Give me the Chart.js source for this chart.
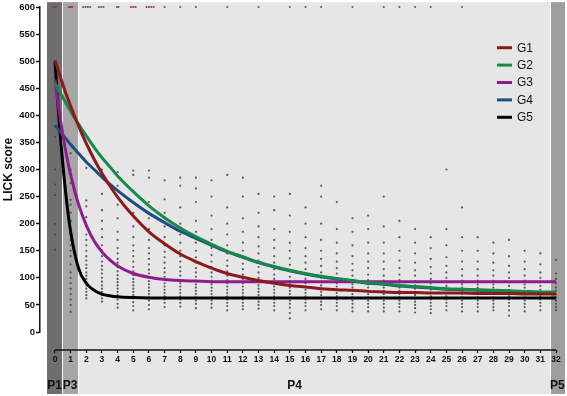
<!DOCTYPE html>
<html lang="en">
<head>
<meta charset="UTF-8" />
<title>LICK score per session</title>
<script src="https://cdn.jsdelivr.net/npm/chart.js"></script>
<style>
  html, body { margin:0; padding:0; background:#fff; }
</style>
</head>
<body>
<canvas id="chart" width="567" height="396"></canvas>

<script>
// ---- data ----
const groups = ['G1', 'G2', 'G3', 'G4', 'G5'];

// sessions where the fitted curves were read
const fitX = [0, 0.25, 0.5, 0.75, 1, 1.5, 2, 2.5, 3, 3.5, 4,
  5, 6, 7, 8, 9, 10, 11, 12, 13, 14, 15, 16, 17, 18, 19, 20,
  21, 22, 23, 24, 25, 26, 27, 28, 29, 30, 31, 32];

const fitG1 = [502, 479, 457, 436, 417, 381, 348, 319, 293, 270, 249,
  214, 185, 163, 144, 130, 118, 108, 101, 95, 90, 86, 83, 80, 78, 77, 75,
  74, 73, 73, 72, 72, 72, 71, 71, 71, 70, 70, 70];
const fitG2 = [460, 446, 433, 420, 407, 384, 362, 341, 322, 305, 288,
  259, 233, 211, 192, 176, 162, 149, 139, 129, 121, 114, 108, 103, 99, 95, 91,
  89, 86, 84, 82, 80, 79, 78, 77, 76, 75, 74, 74];
const fitG3 = [466, 411, 364, 324, 290, 236, 197, 168, 148, 133, 122,
  108, 101, 97, 95, 94, 93, 93, 93, 93, 93, 93, 93, 93, 93, 93, 93,
  93, 93, 93, 93, 93, 93, 93, 93, 93, 93, 93, 93];
const fitG4 = [382, 373, 364, 355, 346, 330, 314, 300, 286, 273, 261,
  239, 219, 202, 186, 173, 160, 148, 138, 128, 120, 113, 107, 102, 98, 94, 90,
  88, 85, 83, 81, 79, 78, 77, 76, 75, 74, 73, 73];
const fitG5 = [500, 395, 310, 240, 185, 118, 90, 77, 70, 67, 65,
  63.5, 63, 63, 63, 63, 63, 63, 63, 63, 63, 63, 63, 63, 63, 63, 63,
  63, 63, 63, 63, 63, 63, 63, 63, 63, 63, 63, 63];

// individual scores, one list per session (index = session)
const dotCols = [
  [360, 300, 272, 253, 200, 180, 152],
  [330, 300, 275, 244, 235, 220, 205, 190, 180, 170, 160, 150, 140, 125, 110, 100, 90, 80, 70, 60, 50, 37],
  [303, 243, 232, 212, 195, 180, 170, 160, 150, 140, 132, 124, 118, 110, 104, 98, 92, 86, 80, 74, 68, 62],
  [300, 255, 225, 205, 190, 175, 160, 150, 140, 130, 122, 115, 108, 100, 93, 86, 80, 74, 68, 62, 56],
  [295, 270, 235, 210, 185, 170, 155, 145, 135, 128, 120, 112, 105, 98, 92, 86, 80, 74, 68, 60, 52, 45],
  [298, 290, 260, 220, 195, 175, 160, 150, 140, 130, 120, 112, 105, 98, 92, 86, 80, 74, 68, 62, 55, 48, 40],
  [298, 285, 240, 210, 190, 170, 155, 145, 135, 125, 115, 108, 100, 94, 88, 82, 76, 70, 64, 58, 50, 42],
  [280, 245, 220, 195, 175, 160, 148, 138, 128, 118, 110, 102, 96, 90, 84, 78, 72, 66, 60, 54, 46],
  [285, 270, 230, 200, 180, 165, 150, 140, 130, 120, 112, 104, 96, 90, 84, 78, 72, 66, 60, 54, 47],
  [285, 265, 240, 205, 185, 165, 150, 138, 128, 118, 110, 102, 95, 88, 82, 76, 70, 64, 58, 52, 44],
  [280, 250, 215, 190, 170, 155, 142, 130, 120, 110, 102, 95, 88, 82, 76, 70, 64, 58, 52, 45],
  [290, 230, 200, 180, 160, 145, 132, 122, 112, 104, 96, 90, 84, 78, 72, 66, 60, 54, 48, 40],
  [285, 250, 210, 185, 165, 150, 138, 126, 116, 106, 98, 90, 84, 78, 72, 66, 60, 54, 48, 42],
  [255, 220, 195, 175, 158, 145, 132, 120, 110, 100, 92, 86, 80, 74, 68, 62, 56, 50, 43],
  [250, 225, 190, 170, 155, 140, 128, 116, 106, 98, 90, 84, 78, 72, 66, 60, 54, 48, 40],
  [255, 215, 185, 165, 150, 136, 124, 112, 102, 94, 88, 82, 76, 70, 64, 58, 52, 45, 35, 25],
  [230, 200, 175, 155, 140, 128, 116, 106, 98, 90, 84, 78, 72, 66, 60, 54, 48, 40],
  [270, 250, 200, 170, 150, 135, 122, 110, 100, 92, 86, 80, 74, 68, 62, 56, 50, 42],
  [240, 190, 165, 145, 130, 118, 108, 98, 90, 84, 78, 72, 66, 60, 54, 48, 40],
  [210, 185, 160, 140, 126, 114, 104, 96, 88, 82, 76, 70, 64, 58, 52, 45, 38],
  [215, 190, 165, 145, 130, 118, 106, 96, 88, 82, 76, 70, 64, 58, 52, 46, 38],
  [250, 195, 165, 145, 130, 116, 104, 95, 88, 82, 76, 70, 64, 58, 52, 45, 38],
  [205, 175, 150, 132, 118, 106, 96, 88, 82, 76, 70, 64, 58, 52, 46, 38],
  [190, 165, 145, 128, 114, 104, 94, 86, 80, 74, 68, 62, 56, 50, 44, 36],
  [175, 155, 135, 120, 108, 98, 90, 84, 78, 72, 66, 60, 54, 48, 42, 35],
  [300, 190, 160, 138, 122, 110, 100, 92, 85, 78, 72, 66, 60, 54, 48, 40],
  [230, 175, 150, 130, 116, 104, 95, 88, 82, 76, 70, 64, 58, 52, 46, 38],
  [175, 150, 130, 116, 104, 95, 88, 82, 76, 70, 64, 58, 52, 46, 38],
  [165, 145, 128, 114, 104, 95, 88, 82, 76, 70, 64, 58, 52, 46, 40],
  [170, 140, 122, 110, 100, 92, 85, 78, 72, 66, 60, 54, 48, 40, 30],
  [150, 130, 116, 104, 95, 88, 82, 76, 70, 64, 58, 52, 46, 38],
  [145, 125, 110, 100, 92, 85, 78, 72, 66, 60, 54, 48, 40],
  [133, 108, 98, 90, 82, 76, 70, 64, 58, 52, 46, 40]
];

// capped scores (600) – session position of each mark
const cappedRedX  = [-0.1, 0.05, 0.9, 1.0, 1.1, 4.85, 5.0, 5.15, 5.85, 6.0, 6.15, 6.3];
const cappedGrayX = [1.8, 1.95, 2.1, 2.25, 2.8, 2.95, 3.1, 3.95, 4.05, 7.0, 8.0, 9.0,
  11.0, 13.0, 15.0, 16.0, 17.0, 19.0, 21.0, 22.0, 23.0, 24.0, 26.0];
const capValue = 600;

// phases (session ranges) and their labels
const phaseNames = ['P1', 'P3', 'P4', 'P5'];
const phaseFrom  = [-0.51, 0.51, 1.53, 31.68];
const phaseTo    = [0.45, 1.47, 31.62, 32.58];
const phaseLabelAt = [-0.03, 0.97, 15.3, 32.08];

const yTicks = [0, 600, 50];   // min, max, step
const xTicks = [0, 32, 1];

// ---- styles ----
const lineColors = ['#8b1a1a', '#178a4a', '#8e1c8e', '#1c4f80', '#000000'];
const phaseFills = ['#6e6e6e', '#a6a6a6', '#e6e6e6', '#9e9e9e'];
const FONT = 'Arial, "Liberation Sans", Helvetica, sans-serif';

const fits = [fitG1, fitG2, fitG3, fitG4, fitG5];

const datasets = groups.map((g, i) => ({
  type: 'line',
  label: g,
  data: fitX.map((x, k) => ({ x, y: fits[i][k] })),
  borderColor: lineColors[i],
  borderWidth: 3,
  pointRadius: 0,
  fill: false,
  cubicInterpolationMode: 'monotone',
  order: i + 1
}));

const dots = [];
dotCols.forEach((col, x) => col.forEach(y => dots.push({ x, y })));
datasets.push({
  type: 'scatter', label: 'scores', data: dots,
  pointRadius: 1.1, pointBorderWidth: 0,
  backgroundColor: 'rgba(75,55,85,0.85)', order: 10, clip: false
});
datasets.push({
  type: 'scatter', label: 'capped', data: cappedGrayX.map(x => ({ x, y: capValue })),
  pointRadius: 1.1, pointBorderWidth: 0,
  backgroundColor: 'rgba(80,80,90,0.9)', order: 11, clip: false
});
datasets.push({
  type: 'scatter', label: 'capped2', data: cappedRedX.map(x => ({ x, y: capValue })),
  pointRadius: 1.1, pointBorderWidth: 0,
  backgroundColor: 'rgba(150,40,60,0.9)', order: 11, clip: false
});

const X_AXIS_AT = -33.2;   // y value where the session axis sits

const phasePlugin = {
  id: 'phases',
  beforeDraw(chart) {
    const { ctx, scales: { x, y } } = chart;
    const top = y.getPixelForValue(609), bottom = y.getPixelForValue(-114.5);
    ctx.save();
    phaseNames.forEach((n, i) => {
      const l = x.getPixelForValue(phaseFrom[i]), r = x.getPixelForValue(phaseTo[i]);
      ctx.fillStyle = phaseFills[i];
      ctx.fillRect(l, top, r - l, bottom - top);
    });
    ctx.restore();
  },
  afterDraw(chart) {
    const { ctx, scales: { x, y } } = chart;
    ctx.save();
    // session axis line
    const ay = y.getPixelForValue(X_AXIS_AT);
    ctx.strokeStyle = '#111';
    ctx.lineWidth = 1.5;
    ctx.beginPath();
    ctx.moveTo(x.getPixelForValue(xTicks[0]), ay);
    ctx.lineTo(x.getPixelForValue(xTicks[1]), ay);
    ctx.stroke();

    // phase labels
    ctx.fillStyle = '#111';
    ctx.font = 'bold 12px ' + FONT;
    ctx.textAlign = 'center';
    ctx.textBaseline = 'middle';
    phaseNames.forEach((n, i) => ctx.fillText(n, x.getPixelForValue(phaseLabelAt[i]), 386));

    // legend
    ctx.font = '12px ' + FONT;
    ctx.textAlign = 'left';
    groups.forEach((g, i) => {
      const ly = 47.7 + i * 17.4;
      ctx.strokeStyle = lineColors[i];
      ctx.lineWidth = 3;
      ctx.beginPath();
      ctx.moveTo(497, ly);
      ctx.lineTo(512, ly);
      ctx.stroke();
      ctx.fillStyle = '#111';
      ctx.fillText(g, 517, ly + 0.5);
    });
    ctx.restore();
  }
};

new Chart(document.getElementById('chart'), {
  type: 'scatter',
  data: { datasets },
  plugins: [phasePlugin],
  options: {
    responsive: false,
    animation: false,
    devicePixelRatio: 1,
    layout: { padding: { left: 0, right: 11, top: 7, bottom: 64 } },
    plugins: { legend: { display: false }, tooltip: { enabled: false } },
    scales: {
      x: {
        type: 'linear',
        position: { y: X_AXIS_AT },
        min: -0.958, max: xTicks[1],
        border: { display: false },
        grid: { drawOnChartArea: false, tickLength: 3, tickColor: '#111', tickWidth: 1.3 },
        ticks: {
          stepSize: xTicks[2], includeBounds: false, autoSkip: false, maxRotation: 0,
          padding: 2, color: '#111', font: { family: FONT, size: 8.5, weight: 'bold' }
        },
        afterBuildTicks: s => {
          s.ticks = s.ticks.filter(t => t.value >= xTicks[0] && t.value <= xTicks[1] && Number.isInteger(t.value));
        }
      },
      y: {
        type: 'linear',
        position: 'left',
        min: yTicks[0], max: yTicks[1],
        afterFit: s => { s.width = 40; },
        border: { color: '#111', width: 1.5 },
        grid: { drawOnChartArea: false, tickLength: 4, tickColor: '#111', tickWidth: 1.5 },
        ticks: {
          stepSize: yTicks[2], padding: 1, color: '#111',
          font: { family: FONT, size: 9.5, weight: 'bold' }
        },
        title: {
          display: true, text: 'LICK score', color: '#111',
          padding: { top: 1, bottom: 1 },
          font: { family: FONT, size: 12, weight: 'bold' }
        }
      }
    }
  }
});
</script>
</body>
</html>
